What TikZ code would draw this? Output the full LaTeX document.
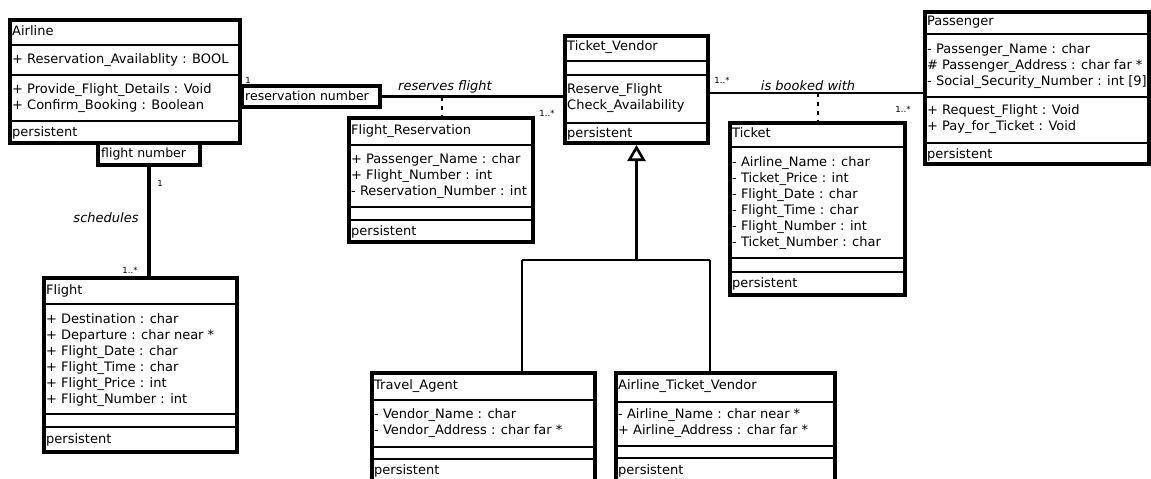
\documentclass[tikz,border=0pt]{standalone}
\usepackage{fontspec}
\setmainfont{DejaVu Sans}
\usetikzlibrary{arrows.meta}
\newcommand{\rowsat}[3]{\foreach \t [count=\i from 0] in {#3} \node[txt] at (#1,#2+16*\i) {\t};}
\begin{document}
\begin{tikzpicture}[x=1pt,y=-1pt,
  cls/.style={draw, line width=3.2pt, anchor=north west, inner sep=0pt, outer sep=0pt},
  div/.style={line width=2pt},
  txt/.style={anchor=west, inner sep=0pt, font=\fontsize{13}{15}\selectfont, text height=9.5pt, text depth=2.5pt},
  lbl/.style={inner sep=0pt, font=\fontsize{13}{15}\selectfont\itshape},
  mult/.style={inner sep=0pt, font=\fontsize{8.5}{9}\selectfont},
  assoc/.style={line width=2.3pt},
  dashlink/.style={line width=1.8pt, dash pattern=on 4pt off 5pt}
]
\useasboundingbox (0,0) rectangle (1151,479);
\fill[white] (0,0) rectangle (1151,479);
\clip (0,0) rectangle (1151,479);

% ---------- Airline ----------
\node[cls, minimum width=230pt, minimum height=123pt] (airline) at (10,20) {};
\draw[div] (10,45) -- (240,45);
\draw[div] (10,75) -- (240,75);
\draw[div] (10,121) -- (240,121);
\node[txt] at (12,32) {Airline};
\node[txt] at (12,60) {+ Reservation\_Availablity : BOOL};
\rowsat{12}{90}{{+ Provide\_Flight\_Details : Void},{+ Confirm\_Booking : Boolean}}
\node[txt] at (12,133) {persistent};

% qualifier boxes
\node[cls, minimum width=138pt, minimum height=21pt] (resnum) at (242,86) {};
\node[txt, font=\fontsize{12.5}{14}\selectfont] at (245,96.5) {reservation number};
\node[cls, minimum width=102pt, minimum height=22pt] (fltnum) at (98,143) {};
\node[txt, font=\fontsize{12.5}{14}\selectfont] at (101,154) {flight number};

% ---------- Flight ----------
\node[cls, minimum width=193pt, minimum height=174pt] (flight) at (44,278) {};
\draw[div] (44,304) -- (237,304);
\draw[div] (44,414) -- (237,414);
\draw[div] (44,427) -- (237,427);
\node[txt] at (46,291) {Flight};
\rowsat{46}{320}{{+ Destination : char},{+ Departure : char near *},{+ Flight\_Date : char},{+ Flight\_Time : char},{+ Flight\_Price : int},{+ Flight\_Number : int}}
\node[txt] at (46,440) {persistent};

% ---------- Flight_Reservation ----------
\node[cls, minimum width=184pt, minimum height=124pt] (fres) at (349,118) {};
\draw[div] (349,145) -- (533,145);
\draw[div] (349,207) -- (533,207);
\draw[div] (349,220) -- (533,220);
\node[txt] at (351,131) {Flight\_Reservation};
\rowsat{351}{160}{{+ Passenger\_Name : char},{+ Flight\_Number : int},{- Reservation\_Number : int}}
\node[txt] at (351,232) {persistent};

% ---------- Ticket_Vendor ----------
\node[cls, minimum width=143pt, minimum height=107pt] (tv) at (565,36) {};
\draw[div] (565,61) -- (708,61);
\draw[div] (565,75) -- (708,75);
\draw[div] (565,123) -- (708,123);
\node[txt] at (567,47) {Ticket\_Vendor};
\rowsat{567}{90}{{Reserve\_Flight},{Check\_Availability}}
\node[txt] at (567,134) {persistent};

% ---------- Ticket ----------
\node[cls, minimum width=175pt, minimum height=172pt] (ticket) at (730,123) {};
\draw[div] (730,147) -- (905,147);
\draw[div] (730,258) -- (905,258);
\draw[div] (730,272) -- (905,272);
\node[txt] at (732,134) {Ticket};
\rowsat{732}{163}{{- Airline\_Name : char},{- Ticket\_Price : int},{- Flight\_Date : char},{- Flight\_Time : char},{- Flight\_Number : int},{- Ticket\_Number : char}}
\node[txt] at (732,284) {persistent};

% ---------- Passenger ----------
\node[cls, minimum width=224pt, minimum height=152pt] (pass) at (925,12) {};
\draw[div] (925,34) -- (1149,34);
\draw[div] (925,97) -- (1149,97);
\draw[div] (925,143) -- (1149,143);
\node[txt] at (927,22) {Passenger};
\rowsat{927}{50}{{- Passenger\_Name : char},{\# Passenger\_Address : char far *},{- Social\_Security\_Number : int [9]}}
\rowsat{927}{111}{{+ Request\_Flight : Void},{+ Pay\_for\_Ticket : Void}}
\node[txt] at (927,155) {persistent};

% ---------- Travel_Agent ----------
\node[cls, minimum width=223pt, minimum height=120pt] (ta) at (372,373) {};
\draw[div] (372,400) -- (595,400);
\draw[div] (372,447) -- (595,447);
\draw[div] (372,459) -- (595,459);
\node[txt] at (374,386) {Travel\_Agent};
\rowsat{374}{415}{{- Vendor\_Name : char},{- Vendor\_Address : char far *}}
\node[txt] at (374,471) {persistent};

% ---------- Airline_Ticket_Vendor ----------
\node[cls, minimum width=219pt, minimum height=120pt] (atv) at (616,373) {};
\draw[div] (616,402) -- (835,402);
\draw[div] (616,446) -- (835,446);
\draw[div] (616,458) -- (835,458);
\node[txt] at (618,386) {Airline\_Ticket\_Vendor};
\rowsat{618}{415}{{- Airline\_Name : char near *},{+ Airline\_Address : char far *}}
\node[txt] at (618,471) {persistent};

% ---------- connectors ----------
\draw[assoc] (resnum.east) -- (resnum.east -| tv.west);
\draw[line width=3.2pt] (fltnum.south) -- (fltnum.south |- flight.north);
\draw[assoc] ([yshift=-3.5pt]tv.east) -- ([yshift=-3.5pt]tv.east -| pass.west);
\coordinate (rf) at (442,97);
\draw[dashlink] (rf) -- (rf |- fres.north);
\coordinate (bw) at (818,93);
\draw[dashlink] (bw) -- (bw |- ticket.north);

% generalization
\coordinate (gj) at (636.5,260);
\coordinate (gl) at (522,260);
\coordinate (gr) at (710,260);
\draw[assoc, -{Triangle[open, width=18pt, length=16pt, line width=2.6pt]}] (gj) -- ([yshift=-2pt]tv.south);
\draw[assoc] (gl) -- (gr);
\draw[assoc] (gl) -- (gl |- ta.north);
\draw[assoc] (gr) -- (gr |- atv.north);

% ---------- labels ----------
\node[lbl] at (445,87) {reserves flight};
\node[lbl] at (808,86) {is booked with};
\node[lbl] at (106,218) {schedules};
\node[mult] at (248,80) {1};
\node[mult] at (547,113) {1..*};
\node[mult] at (722,80) {1..*};
\node[mult] at (903,109) {1..*};
\node[mult] at (160,183) {1};
\node[mult] at (130,270) {1..*};
\end{tikzpicture}
\end{document}
